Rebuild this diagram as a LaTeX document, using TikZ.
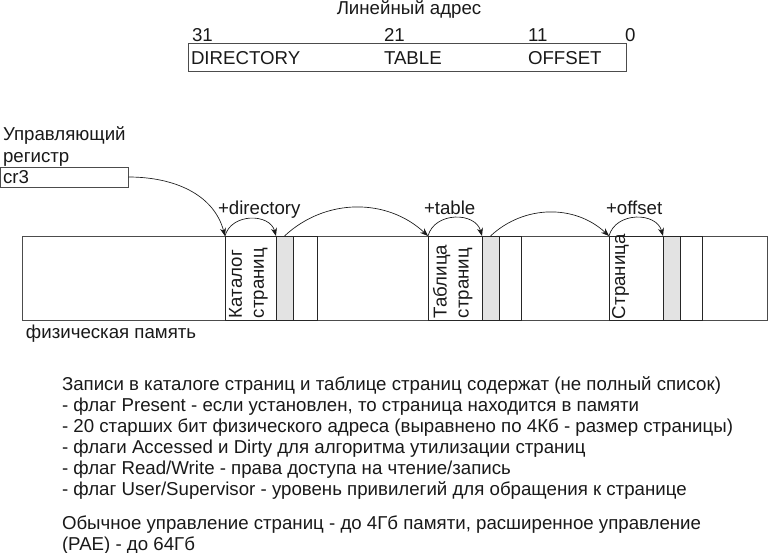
\documentclass[tikz,border=0pt]{standalone}
\usepackage{fontspec}
\setmainfont{Liberation Sans}
\usetikzlibrary{arrows.meta}
\begin{document}
\begin{tikzpicture}[x=0.75pt,y=-0.75pt,
  txt/.style={inner sep=0pt, outer sep=0pt, anchor=base west, font=\fontsize{14}{16.5}\selectfont, text=black!90},
  rtxt/.style={txt, rotate=90, anchor=north west, align=left},
  box/.style={draw=black!70, line width=0.75pt, inner sep=0pt, outer sep=0pt, anchor=north west},
  cell/.style={draw=black!85, line width=0.75pt, inner sep=0pt, outer sep=0pt, anchor=north west, minimum height=63pt, minimum width={#1*0.75pt}},
  gcell/.style={cell=#1, fill=black!11},
  arr/.style={-{Stealth[length=6pt,width=4.5pt]}, draw=black!90, line width=0.5pt},
  hop/.style={arr, out=75, in=105, looseness=1.2},
  jump/.style={arr, out=43, in=137},
]
\useasboundingbox (0,0) rectangle (768,553);

% linear address
\node[txt, anchor=base] (title) at (409,15) {Линейный адрес};
\node[box, minimum width=328.5pt, minimum height=21pt] (la) at (188,43) {};
\node[txt] (b31) at (192,41) {31};
\node[txt] (b21) at (384,41) {21};
\node[txt] (b11) at (528,41) {11};
\node[txt] (b0) at (625,41) {0};
\node[txt] (fdir) at (191,64) {DIRECTORY};
\node[txt] (ftab) at (384,64) {TABLE};
\node[txt] (foff) at (528,64) {OFFSET};

% control register
\node[txt] (reg1) at (3,140) {Управляющий};
\node[txt] (reg2) at (3,162) {регистр};
\node[box, minimum width=96pt, minimum height=15pt] (cr3) at (0.5,167) {};
\node[txt] (cr3t) at (3,183) {cr3};

% physical memory
\node[box, minimum width=558.75pt, minimum height=63pt] (mem) at (22,236) {};
\node[txt] (memt) at (26,338) {физическая память};

\node[cell=51] (kat) at (225,236) {};
\node[gcell=17] (g1) at (276,236) {};
\node[cell=24] (c1) at (293,236) {};
\node[cell=54] (tab) at (428,236) {};
\node[gcell=17] (g2) at (482,236) {};
\node[cell=22] (c2) at (499,236) {};
\node[cell=54] (pg) at (609,236) {};
\node[gcell=17] (g3) at (663,236) {};
\node[cell=22] (c3) at (680,236) {};

\node[rtxt] (katt) at (229,318) {Каталог\\страниц};
\node[rtxt] (tabt) at (433,318) {Таблица\\страниц};
\node[rtxt] (pgt) at (612,319) {Страница};

% labels
\node[txt] (ldir) at (218,214) {+directory};
\node[txt] (ltab) at (424,214) {+table};
\node[txt] (loff) at (606,214) {+offset};

% arrows
\draw[arr] (cr3.east) to[out=0, in=105] (kat.north west);
\draw[hop] (kat.north west) to (g1.north west);
\draw[jump] (g1.north) to (tab.north west);
\draw[hop] (tab.north west) to (g2.north west);
\draw[jump] (g2.north) to (pg.north west);
\draw[hop] (pg.north west) to (g3.north west);

% notes
\node[txt] (n1) at (62,390) {Записи в каталоге страниц и таблице страниц содержат (не полный список)};
\node[txt] (n2) at (62,411) {- флаг Present - если установлен, то страница находится в памяти};
\node[txt] (n3) at (62,432) {- 20 старших бит физического адреса (выравнено по 4Кб - размер страницы)};
\node[txt] (n4) at (62,453) {- флаги Accessed и Dirty для алгоритма утилизации страниц};
\node[txt] (n5) at (62,474) {- флаг Read/Write - права доступа на чтение/запись};
\node[txt] (n6) at (62,495) {- флаг User/Supervisor - уровень привилегий для обращения к странице};
\node[txt] (n7) at (62,529) {Обычное управление страниц - до 4Гб памяти, расширенное управление};
\node[txt] (n8) at (62,550) {(PAE) - до 64Гб};
\end{tikzpicture}
\end{document}
